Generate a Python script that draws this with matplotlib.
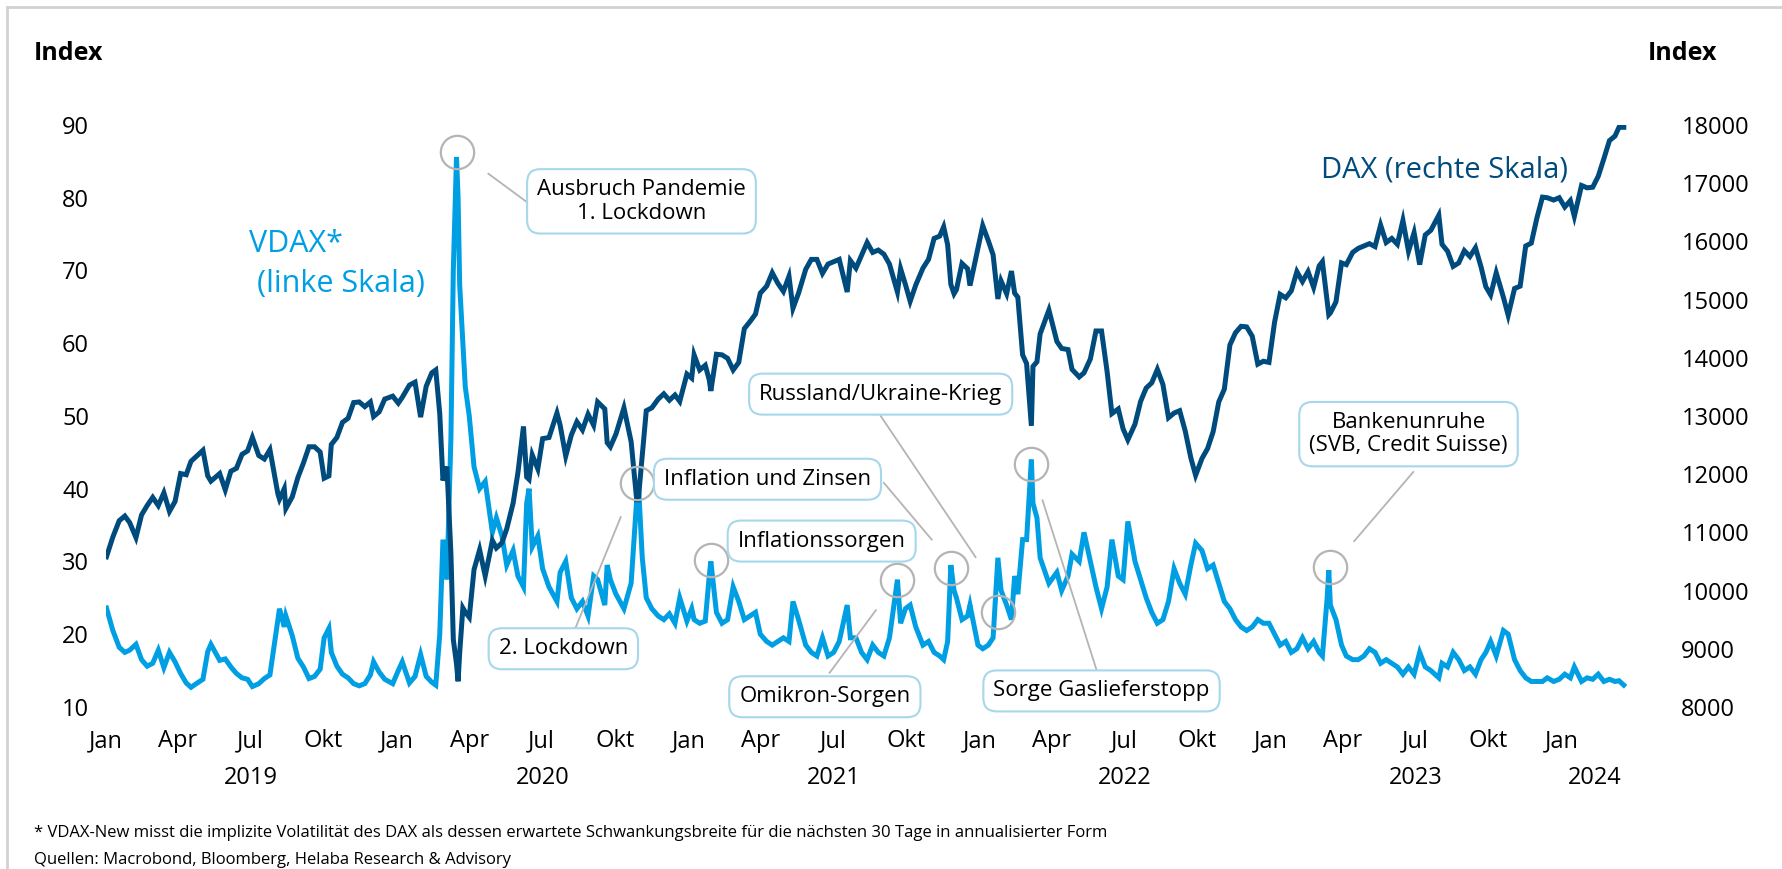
import matplotlib
matplotlib.use("Agg")
import matplotlib.pyplot as plt
import matplotlib.dates as mdates
import pandas as pd

plt.rcParams['font.family'] = ['Open Sans', 'DejaVu Sans']

# ---- data ----
dates = [
    "2019-01-02", "2019-01-10", "2019-01-18", "2019-01-25", "2019-01-31", "2019-02-08", "2019-02-15", "2019-02-22",
    "2019-03-01", "2019-03-08", "2019-03-15", "2019-03-22", "2019-03-29", "2019-04-05", "2019-04-12", "2019-04-18",
    "2019-04-26", "2019-05-03", "2019-05-09", "2019-05-13", "2019-05-24", "2019-05-31", "2019-06-07", "2019-06-14",
    "2019-06-21", "2019-06-28", "2019-07-04", "2019-07-12", "2019-07-19", "2019-07-26", "2019-08-05", "2019-08-07",
    "2019-08-13", "2019-08-15", "2019-08-23", "2019-08-30", "2019-09-06", "2019-09-13", "2019-09-20", "2019-09-27",
    "2019-10-02", "2019-10-08", "2019-10-11", "2019-10-18", "2019-10-25", "2019-11-01", "2019-11-08", "2019-11-15",
    "2019-11-22", "2019-11-29", "2019-12-03", "2019-12-10", "2019-12-17", "2019-12-27",
    "2020-01-03", "2020-01-08", "2020-01-17", "2020-01-24", "2020-01-31", "2020-02-07", "2020-02-14", "2020-02-19",
    "2020-02-24", "2020-02-28", "2020-03-04", "2020-03-09", "2020-03-12", "2020-03-16", "2020-03-18", "2020-03-20",
    "2020-03-24", "2020-03-27", "2020-04-01", "2020-04-07", "2020-04-14", "2020-04-21", "2020-04-30", "2020-05-05",
    "2020-05-12", "2020-05-18", "2020-05-26", "2020-06-01", "2020-06-08", "2020-06-12", "2020-06-15", "2020-06-19",
    "2020-06-26", "2020-07-02", "2020-07-10", "2020-07-20", "2020-07-24", "2020-07-31", "2020-08-07", "2020-08-14",
    "2020-08-21", "2020-08-28", "2020-09-04", "2020-09-09", "2020-09-18", "2020-09-21", "2020-09-25", "2020-10-02",
    "2020-10-12", "2020-10-21", "2020-10-28", "2020-10-30", "2020-11-04", "2020-11-09", "2020-11-16", "2020-11-24",
    "2020-12-01", "2020-12-08", "2020-12-15", "2020-12-21", "2020-12-30",
    "2021-01-05", "2021-01-08", "2021-01-15", "2021-01-22", "2021-01-27", "2021-01-29", "2021-02-05", "2021-02-12",
    "2021-02-19", "2021-02-26", "2021-03-05", "2021-03-12", "2021-03-19", "2021-03-26", "2021-04-01", "2021-04-09",
    "2021-04-16", "2021-04-23", "2021-04-30", "2021-05-07", "2021-05-12", "2021-05-19", "2021-05-28", "2021-06-04",
    "2021-06-11", "2021-06-18", "2021-06-25", "2021-07-02", "2021-07-09", "2021-07-19", "2021-07-23", "2021-07-30",
    "2021-08-06", "2021-08-13", "2021-08-20", "2021-08-27", "2021-09-03", "2021-09-10", "2021-09-20", "2021-09-24",
    "2021-09-30", "2021-10-06", "2021-10-13", "2021-10-22", "2021-10-29", "2021-11-05", "2021-11-12", "2021-11-17",
    "2021-11-22", "2021-11-26", "2021-11-30", "2021-12-03", "2021-12-10", "2021-12-17", "2021-12-20", "2021-12-30",
    "2022-01-05", "2022-01-12", "2022-01-18", "2022-01-24", "2022-01-28", "2022-02-04", "2022-02-10", "2022-02-14",
    "2022-02-18", "2022-02-24", "2022-03-01", "2022-03-07", "2022-03-09", "2022-03-14", "2022-03-18", "2022-03-29",
    "2022-04-08", "2022-04-14", "2022-04-22", "2022-04-27", "2022-05-06", "2022-05-12", "2022-05-20", "2022-05-27",
    "2022-06-03", "2022-06-10", "2022-06-16", "2022-06-24", "2022-06-30", "2022-07-06", "2022-07-15", "2022-07-22",
    "2022-07-29", "2022-08-05", "2022-08-12", "2022-08-19", "2022-08-26", "2022-09-02", "2022-09-09", "2022-09-16",
    "2022-09-23", "2022-09-29", "2022-10-07", "2022-10-14", "2022-10-21", "2022-10-28", "2022-11-04", "2022-11-11",
    "2022-11-18", "2022-11-25", "2022-12-02", "2022-12-09", "2022-12-16", "2022-12-23", "2022-12-30",
    "2023-01-06", "2023-01-13", "2023-01-20", "2023-01-27", "2023-02-03", "2023-02-10", "2023-02-17", "2023-02-24",
    "2023-03-03", "2023-03-07", "2023-03-13", "2023-03-15", "2023-03-17", "2023-03-24", "2023-03-31", "2023-04-06",
    "2023-04-14", "2023-04-21", "2023-04-28", "2023-05-05", "2023-05-12", "2023-05-19", "2023-05-26", "2023-06-02",
    "2023-06-09", "2023-06-16", "2023-06-23", "2023-06-30", "2023-07-07", "2023-07-14", "2023-07-21", "2023-07-31",
    "2023-08-04", "2023-08-11", "2023-08-18", "2023-08-25", "2023-09-01", "2023-09-08", "2023-09-15", "2023-09-22",
    "2023-09-28", "2023-10-04", "2023-10-11", "2023-10-20", "2023-10-26", "2023-11-03", "2023-11-10", "2023-11-17",
    "2023-11-24", "2023-12-01", "2023-12-08", "2023-12-14", "2023-12-22", "2023-12-29",
    "2024-01-05", "2024-01-12", "2024-01-17", "2024-01-26", "2024-02-02", "2024-02-09", "2024-02-16", "2024-02-23",
    "2024-03-01", "2024-03-08", "2024-03-13", "2024-03-19",
]

vdax = [
    23.6, 20.5, 18.2, 17.5, 17.8, 18.6, 16.5, 15.6,
    16.0, 17.8, 15.4, 17.5, 16.2, 14.6, 13.3, 12.7,
    13.3, 13.8, 17.6, 18.6, 16.4, 16.6, 15.5, 14.6,
    14.0, 13.8, 12.8, 13.2, 13.9, 14.4, 22.0, 23.5,
    21.0, 22.5, 19.8, 16.7, 15.5, 13.9, 14.2, 15.2,
    19.5, 20.8, 17.5, 15.6, 14.5, 14.0, 13.2, 12.9,
    13.2, 14.4, 16.2, 14.8, 13.8, 13.2,
    15.0, 16.2, 13.3, 14.2, 17.2, 14.2, 13.4, 13.0,
    20.0, 33.0, 27.5, 47.0, 70.0, 85.6, 80.0, 68.0,
    60.0, 54.0, 50.0, 43.0, 40.0, 41.0, 34.0, 36.0,
    33.5, 29.5, 31.5, 28.0, 26.5, 38.0, 40.0, 32.0,
    33.5, 29.0, 26.5, 24.5, 28.5, 30.0, 25.0, 23.5,
    24.5, 22.5, 28.0, 27.5, 24.0, 29.5, 27.5, 25.5,
    23.5, 27.0, 38.5, 41.0, 30.5, 25.0, 23.5, 22.5,
    22.0, 22.8, 21.5, 25.0, 21.8,
    23.5, 22.0, 21.5, 21.8, 28.0, 30.0, 23.0, 21.5,
    22.0, 26.5, 24.5, 22.0, 22.5, 23.0, 20.0, 19.0,
    18.5, 19.0, 19.5, 19.0, 24.5, 22.0, 18.5, 17.5,
    17.0, 19.5, 17.0, 17.5, 19.0, 24.0, 19.5, 19.5,
    17.5, 16.5, 18.5, 17.5, 17.0, 19.5, 27.5, 21.5,
    23.5, 24.0, 21.0, 18.5, 19.0, 17.5, 17.0, 16.5,
    19.0, 29.5, 26.0, 25.0, 22.0, 22.5, 24.0, 18.5,
    18.0, 18.5, 19.5, 30.5, 26.0, 24.0, 22.0, 28.0,
    25.5, 33.0, 33.0, 44.0, 38.0, 36.0, 30.5, 27.0,
    28.5, 26.0, 28.0, 31.0, 30.0, 34.0, 30.0, 26.5,
    23.5, 26.5, 33.0, 28.0, 27.5, 35.5, 30.0, 27.5,
    25.0, 23.0, 21.5, 22.0, 24.5, 29.0, 27.0, 25.5,
    29.5, 32.5, 31.5, 29.0, 29.5, 27.0, 24.5, 23.5,
    22.0, 21.0, 20.5, 21.0, 22.0, 21.5, 21.5,
    20.0, 18.5, 19.0, 17.5, 18.0, 19.5, 18.0, 19.0,
    17.5, 17.0, 25.0, 28.8, 24.0, 22.0, 18.5, 17.0,
    16.5, 16.5, 17.0, 18.0, 17.5, 16.0, 16.5, 16.0,
    15.5, 14.5, 15.5, 14.5, 17.5, 15.5, 15.0, 14.0,
    16.0, 15.5, 17.5, 16.5, 15.0, 15.5, 14.5, 16.5,
    17.5, 19.0, 17.0, 20.5, 20.0, 16.5, 15.0, 14.0,
    13.5, 13.5, 13.5, 14.0, 13.5, 13.8,
    14.5, 14.0, 15.5, 13.5, 14.0, 13.8, 14.5, 13.5,
    13.8, 13.5, 13.6, 13.0,
]

dax = [
    10580, 10920, 11200, 11280, 11170, 10910, 11300, 11460,
    11600, 11460, 11680, 11360, 11530, 12010, 11990, 12220,
    12320, 12410, 11970, 11880, 12010, 11730, 12050, 12100,
    12340, 12400, 12630, 12320, 12260, 12420, 11660, 11570,
    11750, 11410, 11610, 11940, 12190, 12470, 12470, 12380,
    11930, 11970, 12510, 12630, 12890, 12960, 13230, 13240,
    13160, 13240, 12990, 13070, 13290, 13340,
    13220, 13320, 13530, 13580, 12980, 13510, 13740, 13790,
    13040, 11890, 12130, 10630, 9160, 8740, 8440, 8930,
    9700, 9630, 9540, 10360, 10700, 10250, 10860, 10730,
    10820, 11060, 11500, 12020, 12820, 11950, 11910, 12330,
    12090, 12610, 12630, 13050, 12840, 12310, 12670, 12900,
    12760, 13030, 12840, 13240, 13120, 12540, 12470, 12690,
    13140, 12560, 11560, 11560, 12320, 13090, 13140, 13290,
    13380, 13270, 13360, 13250, 13720,
    13650, 14050, 13790, 13870, 13620, 13430, 14060, 14050,
    13990, 13790, 13920, 14500, 14620, 14750, 15110, 15230,
    15460, 15280, 15140, 15400, 14850, 15110, 15520, 15690,
    15690, 15450, 15610, 15650, 15690, 15130, 15670, 15540,
    15760, 15980, 15810, 15850, 15780, 15610, 15130, 15530,
    15260, 14970, 15250, 15540, 15690, 16050, 16090, 16250,
    15940, 15260, 15100, 15170, 15620, 15530, 15240, 15880,
    16270, 16010, 15770, 15010, 15320, 15100, 15490, 15110,
    15040, 14050, 13900, 12830, 13850, 13930, 14410, 14820,
    14280, 14160, 14140, 13800, 13670, 13740, 13980, 14460,
    14460, 13760, 13040, 13120, 12780, 12590, 12860, 13250,
    13480, 13570, 13800, 13540, 12970, 13050, 13090, 12740,
    12280, 11980, 12270, 12440, 12730, 13240, 13460, 14220,
    14430, 14540, 14530, 14370, 13890, 13940, 13920,
    14610, 15090, 15030, 15150, 15480, 15310, 15480, 15210,
    15580, 15650, 14960, 14740, 14770, 14960, 15630, 15600,
    15810, 15880, 15920, 15960, 15910, 16280, 15980, 16050,
    15950, 16360, 15830, 16150, 15600, 16110, 16190, 16450,
    15950, 15830, 15570, 15630, 15840, 15740, 15890, 15560,
    15220, 15080, 15460, 15040, 14730, 15190, 15230, 15920,
    15970, 16400, 16760, 16750, 16710, 16750,
    16590, 16700, 16430, 16960, 16920, 16930, 17120, 17420,
    17730, 17810, 17960, 17960,
]

# circled events (date, VDAX level of the circle)
ev_dates = ["2020-03-17", "2020-10-28", "2021-01-29", "2021-09-20",
            "2021-11-26", "2022-01-24", "2022-03-07", "2023-03-16"]
ev_levels = [86.3, 40.8, 30.2, 27.5, 29.1, 23.0, 43.4, 29.3]

# callout boxes: text, box centre, leader line start / end (date, VDAX level)
note_text = ["Ausbruch Pandemie\n1. Lockdown", "2. Lockdown", "Inflation und Zinsen",
             "Inflationssorgen", "Russland/Ukraine-Krieg", "Omikron-Sorgen",
             "Sorge Gaslieferstopp", "Bankenunruhe\n(SVB, Credit Suisse)"]
note_pos = [("2020-11-03", 79.5), ("2020-07-28", 18.0), ("2021-04-10", 41.3),
            ("2021-06-17", 32.8), ("2021-08-30", 53.0), ("2021-06-21", 11.4),
            ("2022-06-03", 12.2), ("2023-06-23", 47.5)]
note_line = [(("2020-04-25", 83.3), ("2020-06-11", 79.5)),
             (("2020-08-12", 20.8), ("2020-10-08", 36.1)),
             (("2021-09-03", 40.8), ("2021-11-02", 33.0)),
             None,
             (("2021-08-30", 50.0), ("2021-12-27", 30.6)),
             (("2021-06-27", 14.7), ("2021-08-24", 23.3)),
             (("2022-05-28", 15.0), ("2022-03-21", 38.4)),
             (("2023-06-29", 42.3), ("2023-04-16", 32.8))]

month_names = {1: "Jan", 4: "Apr", 7: "Jul", 10: "Okt"}
years = [2019, 2020, 2021, 2022, 2023, 2024]

light_blue = "#009FE3"
dark_blue = "#004B7D"
grey = "#B4B4B4"
box_edge = "#A6D7EA"

d = pd.to_datetime(dates)
x_start, x_end = pd.Timestamp("2019-01-01"), pd.Timestamp("2024-03-25")

fig = plt.figure(figsize=(17.82, 8.69), dpi=100)
ax = fig.add_axes([0.0593, 0.1865, 0.8546, 0.6697])
ax2 = ax.twinx()

ax.plot(d, vdax, color=light_blue, lw=3.6, solid_joinstyle="miter")
ax2.plot(d, dax, color=dark_blue, lw=3.6, solid_joinstyle="miter")

ax.set_xlim(x_start, x_end)
ax.set_ylim(10, 90)
ax2.set_ylim(8000, 18000)
ax.set_yticks(range(10, 91, 10))
ax2.set_yticks(range(8000, 18001, 1000))

for a in (ax, ax2):
    for s in a.spines.values():
        s.set_visible(False)
ax.tick_params(axis="y", length=0, labelsize=17, pad=12)
ax2.tick_params(axis="y", length=0, labelsize=17, pad=38)
ax.tick_params(axis="x", length=0, labelsize=17, pad=16)

ax.xaxis.set_major_locator(mdates.MonthLocator(bymonth=[1, 4, 7, 10]))
ax.xaxis.set_major_formatter(plt.FuncFormatter(
    lambda v, p: month_names.get(mdates.num2date(v).month, "")))

# year labels under the month labels
for y in years:
    lo = pd.Timestamp(f"{y}-01-01")
    hi = min(pd.Timestamp(f"{y + 1}-01-01"), x_end)
    mid = lo + (hi - lo) / 2
    ax.text(mid, -0.122, str(y), transform=ax.get_xaxis_transform(),
            ha="center", va="center", fontsize=17)

# circles + callouts (drawn on ax2 so they sit above both lines)
ax2.plot(pd.to_datetime(ev_dates), ev_levels, "o", ms=24, mfc="none",
         mec=grey, mew=1.6, transform=ax.transData, clip_on=False)

for txt, pos, ln in zip(note_text, note_pos, note_line):
    if ln is not None:
        (d0, v0), (d1, v1) = ln
        ax2.plot(pd.to_datetime([d0, d1]), [v0, v1], color=grey, lw=1.3,
                 transform=ax.transData)
    ax2.text(pd.Timestamp(pos[0]), pos[1], txt, transform=ax.transData,
             ha="center", va="center", fontsize=16, linespacing=1.15,
             bbox=dict(boxstyle="round,pad=0.45,rounding_size=0.6",
                       fc="white", ec=box_edge, lw=1.5), zorder=5)

# series labels
fig.text(0.140, 0.719, "VDAX*", color=light_blue, fontsize=22,
         ha="left", va="center")
fig.text(0.144, 0.673, "(linke Skala)", color=light_blue, fontsize=22,
         ha="left", va="center")
fig.text(0.7413, 0.8044, "DAX (rechte Skala)", color=dark_blue, fontsize=21,
         ha="left", va="center")

# axis titles
fig.text(0.019, 0.939, "Index", fontsize=18, fontweight="bold", ha="left", va="center")
fig.text(0.9248, 0.939, "Index", fontsize=18, fontweight="bold", ha="left", va="center")

# footnote
fig.text(0.019, 0.0414, "* VDAX-New misst die implizite Volatilität des DAX als dessen "
         "erwartete Schwankungsbreite für die nächsten 30 Tage in annualisierter Form",
         fontsize=12, ha="left", va="center")
fig.text(0.019, 0.0104, "Quellen: Macrobond, Bloomberg, Helaba Research & Advisory",
         fontsize=12, ha="left", va="center")

# thin grey frame (top and left edge)
fig.add_artist(plt.Line2D([0.004, 1.0], [0.992, 0.992], color="#D2D2D2", lw=2,
                          transform=fig.transFigure))
fig.add_artist(plt.Line2D([0.004, 0.004], [0.0, 0.992], color="#D2D2D2", lw=2,
                          transform=fig.transFigure))

fig.savefig("out.png", dpi=100)
